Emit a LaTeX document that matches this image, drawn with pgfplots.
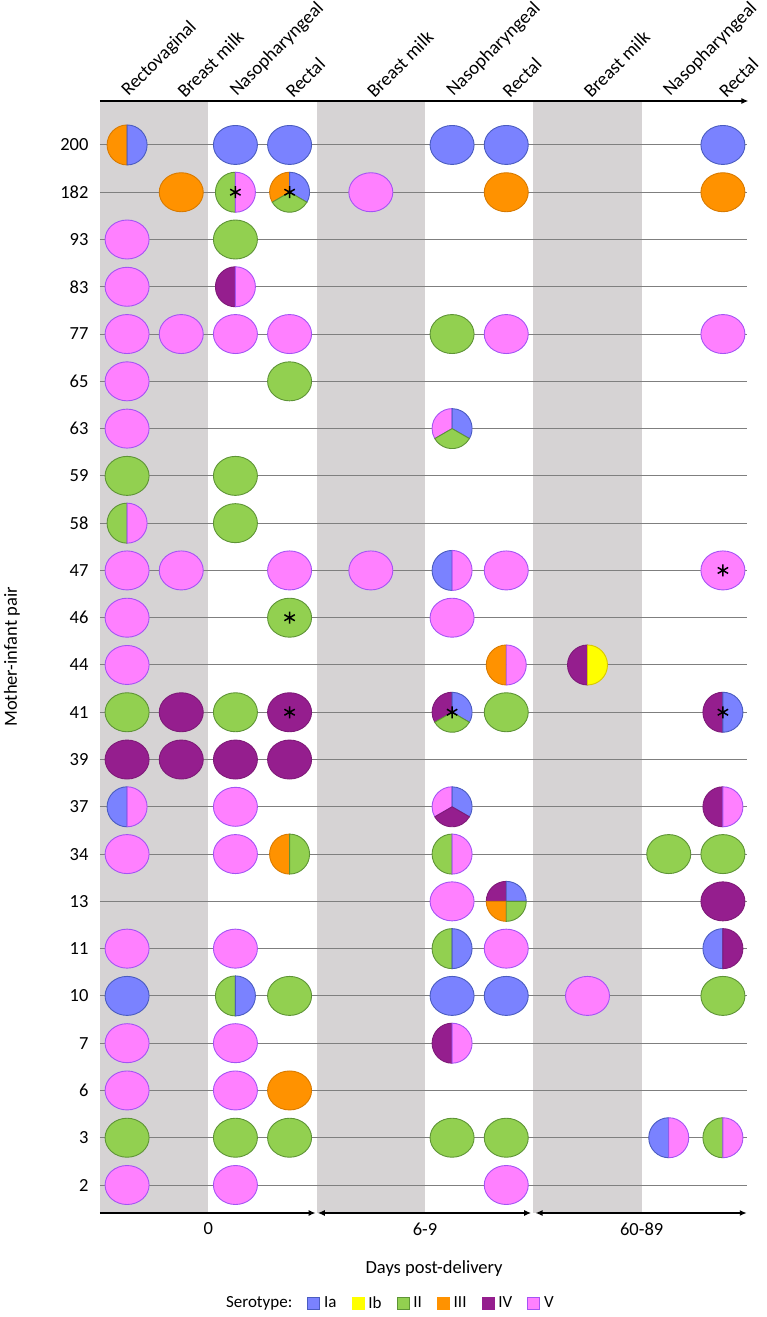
\documentclass[border=0pt]{standalone}
\usepackage{fontspec}
\setmainfont{Carlito}
\usepackage{pgfplots}
\pgfplotsset{compat=1.18}
\usepackage{pgfplotstable}
\usetikzlibrary{arrows.meta}

\definecolor{s0}{HTML}{7A82FF}\definecolor{e0}{HTML}{4A5CC0}
\definecolor{s1}{HTML}{FFFF00}\definecolor{e1}{HTML}{D8C800}
\definecolor{s2}{HTML}{92D050}\definecolor{e2}{HTML}{5E9436}
\definecolor{s3}{HTML}{FF9200}\definecolor{e3}{HTML}{D87A00}
\definecolor{s4}{HTML}{951E8E}\definecolor{e4}{HTML}{7E1A78}
\definecolor{s5}{HTML}{FF80FF}\definecolor{e5}{HTML}{A454F4}
\definecolor{band}{HTML}{D6D3D4}
\definecolor{rowline}{HTML}{7F7F7F}

\pgfdeclareplotmark{nothing}{}
\newcommand{\bigfont}{\fontsize{18.5}{22}\selectfont}
\newcommand{\topfont}{\fontsize{18.8}{22}\selectfont}

% full ellipses: x y serotype (0 Ia,1 Ib,2 II,3 III,4 IV,5 V)
\pgfplotstableread{
x y c
2.5 22 0
3.5 22 0
6.5 22 0
7.5 22 0
11.5 22 0
0.5 4 0
6.5 4 0
7.5 4 0
2.5 20 2
6.5 18 2
3.5 17 2
0.5 15 2
2.5 15 2
2.5 14 2
3.5 12 2
0.5 10 2
2.5 10 2
7.5 10 2
10.5 7 2
11.5 7 2
3.5 4 2
11.5 4 2
0.5 1 2
2.5 1 2
3.5 1 2
6.5 1 2
7.5 1 2
1.5 21 3
7.5 21 3
11.5 21 3
3.5 2 3
1.5 10 4
3.5 10 4
0.5 9 4
1.5 9 4
2.5 9 4
3.5 9 4
11.5 6 4
5 21 5
0.5 20 5
0.5 19 5
0.5 18 5
1.5 18 5
2.5 18 5
3.5 18 5
7.5 18 5
11.5 18 5
0.5 17 5
0.5 16 5
0.5 13 5
1.5 13 5
3.5 13 5
5 13 5
7.5 13 5
11.5 13 5
0.5 12 5
6.5 12 5
0.5 11 5
2.5 8 5
0.5 7 5
2.5 7 5
6.5 6 5
0.5 5 5
2.5 5 5
7.5 5 5
9 4 5
0.5 3 5
2.5 3 5
0.5 2 5
2.5 2 5
0.5 0 5
2.5 0 5
7.5 0 5
}\fullT

% split samples: x y start-angle end-angle serotype
\pgfplotstableread{
x y a1 a2 c
0.5 22 90 270 3
0.5 22 -90 90 0
2.5 21 90 270 2
2.5 21 -90 90 5
3.5 21 90 210 3
3.5 21 -30 90 0
3.5 21 210 330 2
2.5 19 90 270 4
2.5 19 -90 90 5
6.5 16 90 210 5
6.5 16 -30 90 0
6.5 16 210 330 2
0.5 14 90 270 2
0.5 14 -90 90 5
6.5 13 90 270 0
6.5 13 -90 90 5
7.5 11 90 270 3
7.5 11 -90 90 5
9 11 90 270 4
9 11 -90 90 1
6.5 10 90 210 4
6.5 10 -30 90 0
6.5 10 210 330 2
11.5 10 90 270 4
11.5 10 -90 90 0
0.5 8 90 270 0
0.5 8 -90 90 5
6.5 8 90 210 5
6.5 8 -30 90 0
6.5 8 210 330 4
11.5 8 90 270 4
11.5 8 -90 90 5
3.5 7 90 270 3
3.5 7 -90 90 2
6.5 7 90 270 2
6.5 7 -90 90 5
7.5 6 90 180 4
7.5 6 0 90 0
7.5 6 180 270 3
7.5 6 270 360 2
6.5 5 90 270 2
6.5 5 -90 90 0
11.5 5 90 270 0
11.5 5 -90 90 4
2.5 4 90 270 2
2.5 4 -90 90 0
6.5 3 90 270 4
6.5 3 -90 90 5
10.5 1 90 270 0
10.5 1 -90 90 5
11.5 1 90 270 2
11.5 1 -90 90 5
}\pieT

% asterisks
\pgfplotstableread{
x y
2.5 21
3.5 21
11.5 13
3.5 12
3.5 10
6.5 10
11.5 10
}\starT

\pgfplotsset{
  fullell/.style={scatter, only marks, mark=nothing, forget plot,
    visualization depends on={\thisrow{c}\as\cc},
    scatter/@pre marker code/.code={%
      \pgfmathtruncatemacro\ci{\cc}%
      \filldraw[fill=s\ci, draw=e\ci, line width=0.9pt] (0pt,0pt) ellipse [x radius=22pt, y radius=19.5pt];},
    scatter/@post marker code/.code={}},
  pieslice/.style={scatter, only marks, mark=nothing, forget plot,
    visualization depends on={\thisrow{c}\as\cc},
    visualization depends on={\thisrow{a1}\as\aone},
    visualization depends on={\thisrow{a2}\as\atwo},
    scatter/@pre marker code/.code={%
      \pgfmathtruncatemacro\ci{\cc}%
      \filldraw[fill=s\ci, draw=e\ci, line width=0.9pt, line join=round]
        (0pt,0pt) -- (\aone:20pt) arc[start angle=\aone, end angle=\atwo, radius=20pt] -- cycle;},
    scatter/@post marker code/.code={}},
}

\begin{document}
\begin{tikzpicture}[font=\bigfont]
\useasboundingbox (0,0) rectangle (766pt,1317pt);
\begin{axis}[
  at={(100pt,104pt)}, anchor=south west,
  scale only axis, width=650pt, height=1112pt,
  xmin=0, xmax=12, ymin=-0.592, ymax=22.93,
  clip=false,
  axis line style={draw=none},
  major tick length=0pt,
  tick label style={font=\bigfont},
  xtick={0.5,1.5,2.5,3.5,5,6.5,7.5,9,10.5,11.5},
  xticklabels={Rectovaginal,Breast milk,Nasopharyngeal,Rectal,Breast milk,Nasopharyngeal,Rectal,Breast milk,Nasopharyngeal,Rectal},
  xticklabel pos=upper,
  xticklabel style={font=\topfont, rotate=45, anchor=south west, inner sep=0pt, xshift=4pt, yshift=-1.5pt},
  ytick={0,...,22},
  yticklabels={2,3,6,7,10,11,13,34,37,39,41,44,46,47,58,59,63,65,77,83,93,182,200},
  yticklabel style={xshift=-8pt},
  legend style={at={(0.446,-0.081)}, anchor=center, draw=none, fill=none,
    font=\fontsize{17}{20}\selectfont,
    /tikz/every even column/.append style={column sep=13pt}},
  legend columns=-1,
  legend image code/.code={\draw[#1] (0pt,-6pt) rectangle (12pt,6pt); \path (14pt,0pt);},
]
% background bands
\addplot[fill=band, draw=none, forget plot] coordinates {(0,-0.592) (0,22.93) (2,22.93) (2,-0.592)} -- cycle;
\addplot[fill=band, draw=none, forget plot] coordinates {(4,-0.592) (4,22.93) (6,22.93) (6,-0.592)} -- cycle;
\addplot[fill=band, draw=none, forget plot] coordinates {(8,-0.592) (8,22.93) (10,22.93) (10,-0.592)} -- cycle;
% row lines
\pgfplotsinvokeforeach{0,...,22}{
  \addplot[rowline, line width=1pt, forget plot] coordinates {(0,#1) (11.95,#1)};
}
% samples
\addplot[fullell] table {\fullT};
\addplot[pieslice] table {\pieT};
\addplot[only marks, mark=asterisk, mark size=6pt, line width=1.5pt, black, forget plot] table {\starT};

% axes arrows
\draw[line width=1.3pt, -{Latex[length=7pt,width=6pt]}] (axis cs:0,22.93) -- (axis cs:11.97,22.93);
\draw[line width=1.3pt, -{Latex[length=7pt,width=6pt]}] (axis cs:0,-0.592) -- (axis cs:3.98,-0.592);
\draw[line width=1.3pt, {Latex[length=7pt,width=6pt]}-{Latex[length=7pt,width=6pt]}] (axis cs:4.02,-0.592) -- (axis cs:7.96,-0.592);
\draw[line width=1.3pt, {Latex[length=7pt,width=6pt]}-{Latex[length=7pt,width=6pt]}] (axis cs:8.04,-0.592) -- (axis cs:11.94,-0.592);
\node[font=\bigfont] at (axis cs:2,-0.592) [yshift=-16pt] {0};
\node[font=\bigfont] at (axis cs:6,-0.592) [yshift=-16pt] {6-9};
\node[font=\bigfont] at (axis cs:10,-0.592) [yshift=-16pt] {60-89};
\node[font=\bigfont] at (rel axis cs:0.514,0) [yshift=-56pt] {Days post-delivery};
\node[font=\bigfont] at (rel axis cs:0,0.5) [xshift=-88pt, rotate=90] {Mother-infant pair};

% legend
\addlegendimage{empty legend}\addlegendentry{Serotype:\hspace{8pt}}
\addlegendimage{fill=s0, draw=e0, line width=0.8pt}\addlegendentry{Ia}
\addlegendimage{fill=s1, draw=s1, line width=0.8pt}\addlegendentry{Ib}
\addlegendimage{fill=s2, draw=e2, line width=0.8pt}\addlegendentry{II}
\addlegendimage{fill=s3, draw=s3, line width=0.8pt}\addlegendentry{III}
\addlegendimage{fill=s4, draw=s4, line width=0.8pt}\addlegendentry{IV}
\addlegendimage{fill=s5, draw=e5, line width=0.8pt}\addlegendentry{V}
\end{axis}
\end{tikzpicture}
\end{document}
